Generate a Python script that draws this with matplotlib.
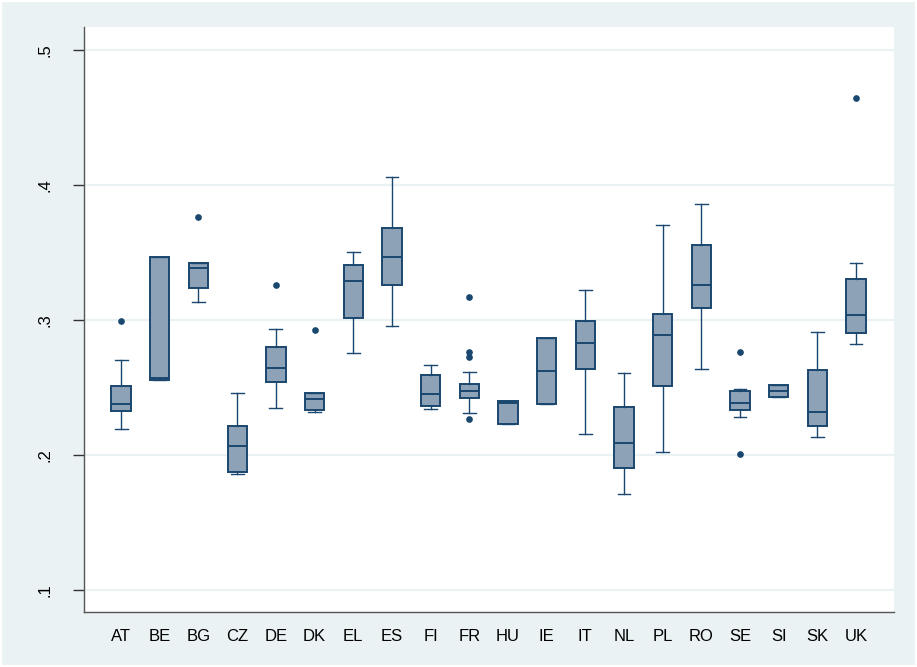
import matplotlib
matplotlib.use("Agg")
import matplotlib.pyplot as plt
from matplotlib.patches import Rectangle

plt.rcParams["font.family"] = ["Liberation Sans", "DejaVu Sans"]

# --- data ---
countries = ["AT", "BE", "BG", "CZ", "DE", "DK", "EL", "ES", "FI", "FR",
             "HU", "IE", "IT", "NL", "PL", "RO", "SE", "SI", "SK", "UK"]
whis_lo = [0.2195, 0.2556, 0.3131, 0.1857, 0.2350, 0.2321, 0.2758, 0.2956, 0.2343, 0.2309,
           0.2227, 0.2378, 0.2158, 0.1711, 0.2020, 0.2639, 0.2284, 0.2430, 0.2133, 0.2822]
q1 = [0.2324, 0.2556, 0.3240, 0.1876, 0.2541, 0.2336, 0.3017, 0.3262, 0.2361, 0.2424,
      0.2227, 0.2378, 0.2635, 0.1901, 0.2513, 0.3089, 0.2333, 0.2430, 0.2215, 0.2906]
median = [0.2378, 0.2568, 0.3383, 0.2069, 0.2647, 0.2413, 0.3287, 0.3467, 0.2450, 0.2474,
          0.2383, 0.2625, 0.2832, 0.2087, 0.2887, 0.3262, 0.2383, 0.2472, 0.2321, 0.3039]
q3 = [0.2513, 0.3469, 0.3420, 0.2217, 0.2802, 0.2457, 0.3407, 0.3679, 0.2595, 0.2528,
      0.2402, 0.2869, 0.2995, 0.2353, 0.3042, 0.3558, 0.2476, 0.2519, 0.2627, 0.3306]
whis_hi = [0.2704, 0.3469, 0.3420, 0.2457, 0.2933, 0.2457, 0.3506, 0.4062, 0.2667, 0.2615,
           0.2402, 0.2869, 0.3220, 0.2605, 0.3704, 0.3859, 0.2489, 0.2519, 0.2909, 0.3422]
outliers = [[0.2995], [], [0.3765], [], [0.3257], [0.2924], [], [], [],
            [0.3173, 0.2765, 0.2726, 0.2264], [], [], [], [], [], [],
            [0.2761, 0.2007], [], [], [0.4647]]

yticks = [0.1, 0.2, 0.3, 0.4, 0.5]
ytick_labels = [".1", ".2", ".3", ".4", ".5"]

navy = "#1A476F"
fill = "#8DA2B6"
bg = "#EAF2F3"

stats = []
for i, c in enumerate(countries):
    stats.append({"label": c, "whislo": whis_lo[i], "q1": q1[i], "med": median[i],
                  "q3": q3[i], "whishi": whis_hi[i], "fliers": outliers[i]})

fig = plt.figure(figsize=(9.17, 6.67), dpi=100, facecolor=bg)
# thin white frame around the graph region
fig.patches.append(Rectangle((0, 0), 1, 1, transform=fig.transFigure, fill=False,
                             edgecolor="white", linewidth=3))
ax = fig.add_axes([84 / 917, 1 - 612 / 667, (894 - 84) / 917, (612 - 27) / 667])
ax.set_facecolor("white")

for y in yticks:
    ax.axhline(y, color=bg, linewidth=1.6, zorder=0)

positions = list(range(1, len(countries) + 1))
ax.bxp(stats, positions=positions, widths=0.5, patch_artist=True,
       boxprops=dict(facecolor=fill, edgecolor=navy, linewidth=1.4),
       medianprops=dict(color=navy, linewidth=1.4),
       whiskerprops=dict(color=navy, linewidth=1.0),
       capprops=dict(color=navy, linewidth=1.0),
       capwidths=0.33,
       flierprops=dict(marker="o", markersize=3.8, markerfacecolor=navy,
                       markeredgecolor=navy))

ax.set_xlim(0.04, 20.98)
ax.set_ylim(0.0837, 0.517)
ax.set_yticks(yticks)
ax.set_yticklabels(ytick_labels, rotation=90, va="center", fontsize=12)
ax.tick_params(axis="y", length=8, width=1, color="#333333", pad=15)
ax.tick_params(axis="x", length=0, pad=12, labelsize=12)

for s in ["top", "right"]:
    ax.spines[s].set_visible(False)
for s in ["left", "bottom"]:
    ax.spines[s].set_color("#555555")
    ax.spines[s].set_linewidth(1.0)

fig.savefig("out.png", dpi=100, facecolor=bg)
